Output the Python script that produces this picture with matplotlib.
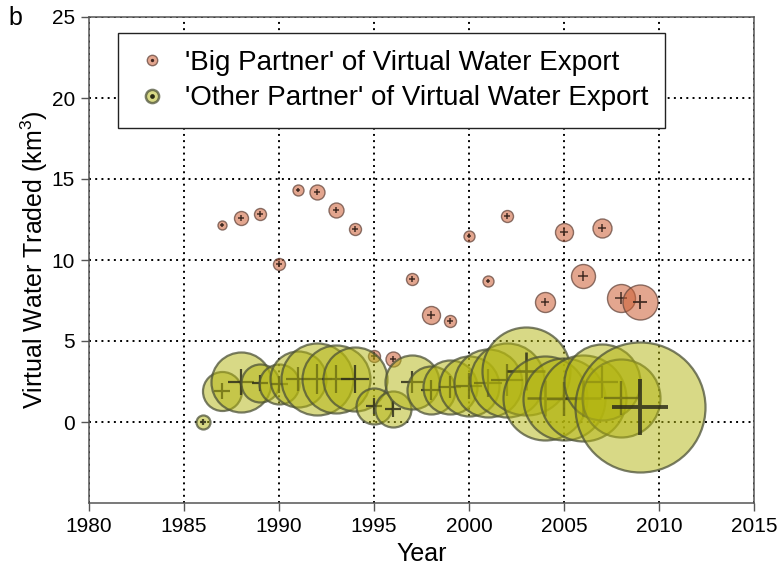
import numpy as np
import matplotlib
matplotlib.use("Agg")
import matplotlib.pyplot as plt
from matplotlib.lines import Line2D
from matplotlib.legend_handler import HandlerTuple

plt.rcParams['font.family'] = ['Liberation Sans', 'DejaVu Sans']
plt.rcParams['mathtext.fontset'] = 'custom'
plt.rcParams['mathtext.rm'] = 'Liberation Sans'

# 'Big Partner' exports (km3) and bubble magnitude
big_years = [1987, 1988, 1989, 1990, 1991, 1992, 1993, 1994, 1995, 1996, 1997,
             1998, 1999, 2000, 2001, 2002, 2004, 2005, 2006, 2007, 2008, 2009]
big_volume = [12.15, 12.6, 12.85, 9.75, 14.3, 14.2, 13.1, 11.9, 4.1, 3.9, 8.8,
              6.6, 6.25, 11.5, 8.7, 12.7, 7.4, 11.7, 9.0, 12.0, 7.65, 7.4]
big_magnitude = [4.5, 7, 6, 6, 5.5, 7.5, 7.5, 6, 6, 7.5, 6,
                 9, 6, 5.5, 5.5, 6, 10, 9, 12, 9.5, 14, 17.5]

# 'Other Partner' exports (km3) and bubble magnitude
other_years = [1986, 1987, 1988, 1989, 1990, 1991, 1992, 1993, 1994, 1995, 1996,
               1997, 1998, 1999, 2000, 2001, 2002, 2003, 2004, 2005, 2006, 2007,
               2008, 2009]
other_volume = [0.0, 1.93, 2.45, 2.4, 2.35, 2.65, 2.65, 2.65, 2.65, 1.0, 0.8,
                2.45, 2.0, 2.15, 2.25, 2.4, 2.6, 3.15, 1.5, 1.4, 1.5, 2.45,
                1.5, 0.93]
other_magnitude = [7, 19.5, 30, 19, 20, 28, 36, 34, 32, 18, 18,
                   27, 24, 27, 30, 34, 37, 44, 42, 41, 43, 38,
                   39, 65]

year_ticks = list(range(1980, 2016, 5))
volume_ticks = [0, 5, 10, 15, 20, 25]

DPI = 100
fig = plt.figure(figsize=(7.8, 5.71), dpi=DPI)
ax = fig.add_axes([89 / 780, 1 - 503 / 571, 665 / 780, 486 / 571])


def px_to_pt(v):
    return np.asarray(v, dtype=float) * 72.0 / DPI


def draw_bubbles(years, values, mags, face, edge, cross_color, edge_lw, z0,
                 cross_scale=0.06, cross_min=1.4):
    z = z0
    for x, y, m in zip(years, values, mags):
        r = px_to_pt(m)
        cross_lw = float(np.clip(m * cross_scale, cross_min, 4.2)) * 72.0 / DPI
        ax.scatter([x], [y], s=(2 * r) ** 2, marker='o', facecolors=[face],
                   edgecolors=[edge], linewidths=edge_lw, zorder=z)
        ax.scatter([x], [y], s=(0.85 * r) ** 2, marker='+', c=[cross_color],
                   linewidths=cross_lw, zorder=z + 1)
        z += 2
    return z


brown_face = (0.80, 0.37, 0.20, 0.55)
brown_edge = (0.40, 0.28, 0.24, 0.75)
olive_face = (0.70, 0.71, 0.06, 0.50)
olive_edge = (0.30, 0.32, 0.22, 0.75)

z = draw_bubbles(big_years, big_volume, big_magnitude, brown_face, brown_edge,
                 (0.22, 0.14, 0.11, 0.95), 1.0, 3, cross_scale=0.1, cross_min=1.5)
draw_bubbles(other_years, other_volume, other_magnitude, olive_face, olive_edge,
             (0.18, 0.18, 0.10, 0.85), 1.6, z, cross_min=2.2)

ax.set_xlim(1980, 2015)
ax.set_ylim(-5, 25)
ax.set_xticks(year_ticks)
ax.set_yticks(volume_ticks)
ax.set_axisbelow(True)
ax.grid(True, color='black', linewidth=1.4, linestyle=(0, (1, 2.2)))

for sp in ax.spines.values():
    sp.set_color('#555555')
    sp.set_linewidth(1.1)
ax.tick_params(direction='out', length=6, width=1.0, color='#555555',
               labelsize=15, pad=4)

ax.set_xlabel('Year', fontsize=18)
ax.set_ylabel('Virtual Water Traded (km$^3$)', fontsize=18)
ax.xaxis.set_label_coords(0.5, -0.08)
ax.yaxis.set_label_coords(-0.058, 0.5)

h_big = (Line2D([], [], ls='none', marker='o', ms=7.5, mfc=brown_face,
                mec=brown_edge, mew=1.0),
         Line2D([], [], ls='none', marker='o', ms=2.4, mfc=(0.25, 0.15, 0.12),
                mec='none'))
h_other = (Line2D([], [], ls='none', marker='o', ms=9.5, mfc=olive_face,
                  mec=olive_edge, mew=1.8),
           Line2D([], [], ls='none', marker='o', ms=3.4, mfc=(0.16, 0.16, 0.08),
                  mec='none'))
leg = ax.legend([h_big, h_other],
                ["'Big Partner' of Virtual Water Export",
                 "'Other Partner' of Virtual Water Export"],
                handler_map={tuple: HandlerTuple(ndivide=1)},
                loc='upper left', bbox_to_anchor=(0.044, 0.967),
                borderaxespad=0, fontsize=20, frameon=True, fancybox=False,
                framealpha=1, edgecolor='#222222', handlelength=1.2,
                handletextpad=0.6, borderpad=0.6, labelspacing=0.35)
leg.get_frame().set_linewidth(1.0)
leg.set_zorder(200)

fig.text(15 / 780, 1 - 18 / 571, 'b', fontsize=18, ha='center', va='center')

fig.savefig('out.png', dpi=DPI)
